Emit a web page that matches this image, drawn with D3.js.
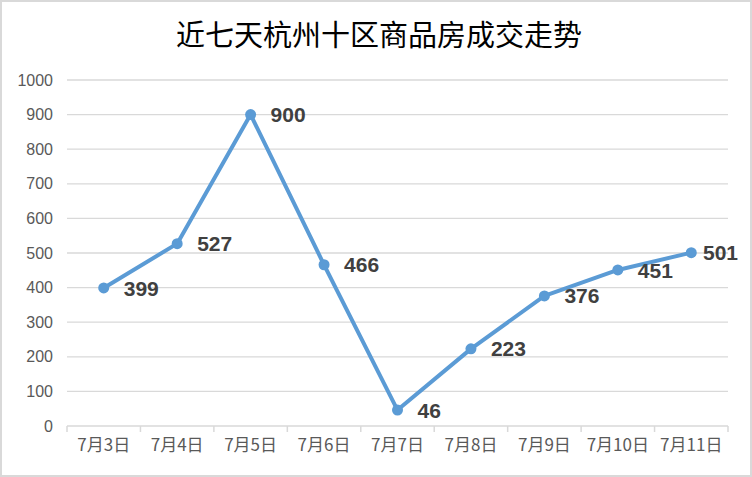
<!DOCTYPE html>
<html><head><meta charset="utf-8">
<script src="https://cdn.jsdelivr.net/npm/d3@7"></script>
<style>
html,body{margin:0;padding:0;background:#fff;}
svg{display:block;}
</style></head>
<body>
<svg id="chart" width="752" height="477"></svg>
<script>
const title = "近七天杭州十区商品房成交走势";
const categories = ["7月3日","7月4日","7月5日","7月6日","7月7日","7月8日","7月9日","7月10日","7月11日"];
const values = [399,527,900,466,46,223,376,451,501];
const yTicks = [0,100,200,300,400,500,600,700,800,900,1000];

const W = 752, H = 477;
const margin = {left:67, right:24, top:80, bottom:51};
const svg = d3.select("#chart");

svg.append("rect").attr("x",1).attr("y",1).attr("width",W-2).attr("height",H-2)
  .attr("fill","#fff").attr("stroke","#d9d9d9").attr("stroke-width",2);

svg.append("text").attr("x",W/2+3).attr("y",46).attr("text-anchor","middle")
  .attr("font-family","'Noto Sans CJK SC','Noto Sans CJK JP',sans-serif")
  .attr("font-size",29).attr("fill","#000").text(title);

const x = d3.scaleBand().domain(categories).range([margin.left, W-margin.right]).paddingInner(0).paddingOuter(0);
const y = d3.scaleLinear().domain([0,1000]).range([H-margin.bottom, margin.top]);

// gridlines
svg.append("g").selectAll("line").data(yTicks.filter(d=>d>0)).join("line")
  .attr("x1",margin.left).attr("x2",W-margin.right)
  .attr("y1",d=>y(d)).attr("y2",d=>y(d))
  .attr("stroke","#d9d9d9").attr("stroke-width",1.3);

// y axis labels
const yAxis = d3.axisLeft(y).tickValues(yTicks).tickFormat(d3.format("d")).tickSize(0).tickPadding(14);
const gy = svg.append("g").attr("transform",`translate(${margin.left},0)`).call(yAxis);
gy.select(".domain").remove();
gy.selectAll("text").attr("font-family","'Liberation Sans',Arial,sans-serif")
  .attr("font-size",16).attr("fill","#595959");

// x axis
const xAxis = d3.axisBottom(x).tickSize(0).tickPadding(13);
const gx = svg.append("g").attr("transform",`translate(0,${y(0)})`).call(xAxis);
gx.select(".domain").attr("stroke","#d9d9d9").attr("stroke-width",1.5).attr("d",`M${margin.left},0H${W-margin.right}`);
gx.selectAll("text").attr("font-family","'Noto Sans CJK SC','Liberation Sans',sans-serif")
  .attr("font-size",17).attr("fill","#595959");
// tick marks at band edges
const edges = categories.map(c=>x(c)).concat([x(categories[categories.length-1])+x.bandwidth()]);
gx.append("g").selectAll("line").data(edges).join("line")
  .attr("x1",d=>d).attr("x2",d=>d).attr("y1",0).attr("y2",6)
  .attr("stroke","#d9d9d9").attr("stroke-width",1.5);

const cx = c => x(c) + x.bandwidth()/2;
const data = categories.map((c,i)=>({c, v:values[i]}));

svg.append("path").datum(data)
  .attr("fill","none").attr("stroke","#5b9bd5").attr("stroke-width",4)
  .attr("stroke-linejoin","round").attr("stroke-linecap","round")
  .attr("d", d3.line().x(d=>cx(d.c)).y(d=>y(d.v)));

svg.append("g").selectAll("circle").data(data).join("circle")
  .attr("cx",d=>cx(d.c)).attr("cy",d=>y(d.v)).attr("r",5.5).attr("fill","#5b9bd5");

const labels = svg.append("g").selectAll("text").data(data).join("text")
  .attr("x",d=>cx(d.c)+20).attr("y",d=>y(d.v)).attr("dy","0.36em")
  .attr("font-family","'Liberation Sans',Arial,sans-serif").attr("font-weight","bold")
  .attr("font-size",21).attr("fill","#404040").text(d=>d.v);
labels.each(function(d){
  const w = this.getComputedTextLength();
  const maxX = W - 14 - w;
  if (+this.getAttribute("x") > maxX) d3.select(this).attr("x", maxX);
});
</script>
</body></html>
